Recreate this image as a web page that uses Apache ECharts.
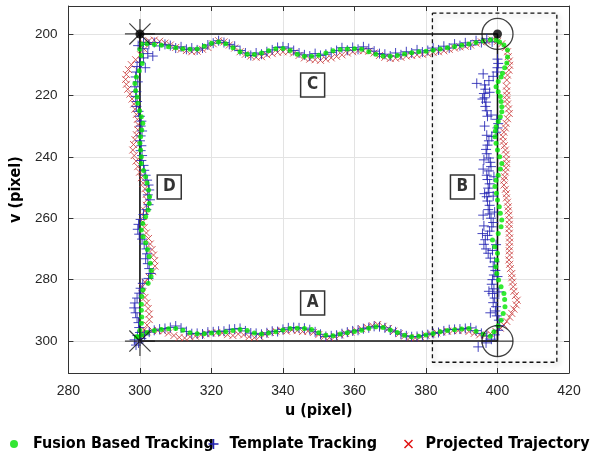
<!DOCTYPE html>
<html><head><meta charset="utf-8">
<script src="https://cdn.jsdelivr.net/npm/echarts@6/dist/echarts.min.js"></script>
<style>html,body{margin:0;padding:0;background:#fff}#c{width:590px;height:456px}</style>
</head><body><div id="c"></div>
<script>
// ---- axes ----
const xRange = [280, 420];
const yRange = [190.9, 310.4];
const tickStep = 20;
const yTicks = [200, 220, 240, 260, 280, 300];

// ---- reference square & annotations ----
const refSquare = [[300,200],[400,200],[400,300],[300,300],[300,200]];
const boxCorners = [[381.8,193.2],[416.6,193.2],[416.6,306.9],[381.8,306.9],[381.8,193.2]];
const starPoints = [[300,200],[300,300]];
const dotPoints = [[300,200],[400,200]];
const circlePoints = [[400,200],[400,300]];
const plusPoints = [[400,300]];
const labelNames = ['A','B','C','D'];
const labelPos = [[348.3,287.6],[390.2,249.8],[348.3,216.6],[308.2,249.8]];

// ---- Fusion Based Tracking ----
const fusionBottom = [[299.0,298.6],[300.5,298.0],[302,297.2],[304,296.6],[306,296.2],[308,296.0],[310,295.9],[312,296.5],[314,297.3],[316,297.6],[318,297.6],[320,297.4],[322,297.2],[324,297.0],[326,296.6],[328,296.2],[330,296.6],[332,297.4],[334,297.7],[336,297.4],[338,297.0],[340,296.4],[342,295.9],[344,295.8],[346,295.9],[348,296.2],[350,297.3],[352,298.1],[354,298.3],[356,297.7],[358,297.3],[360,296.9],[362,296.5],[364,295.8],[366,295.3],[368,295.6],[370,296.4],[372,297.2],[374,298.1],[376,298.6],[378,298.4],[380,298.0],[382,297.5],[384,297.0],[386,296.6],[388,296.3],[390,296.1],[392,295.9],[394,296.8],[396,297.8],[398,298.4]];
const fusionRight = [[399.0,297.0],[400.2,295.0],[401.0,293.2],[401.6,291.0],[402.1,288.8],[402.0,286.5],[401.8,284.5],[401.0,282.3],[400.3,280.1],[399.8,278.0],[399.5,275.8],[399.8,273.6],[400.0,271.4],[399.2,269.3],[398.6,267.1],[400.2,265.0],[401.0,262.8],[401.2,260.6],[400.8,258.4],[400.5,256.3],[400.0,254.1],[399.7,251.9],[399.3,249.7],[399.6,247.6],[400.2,246.0],[400.8,244.0],[401.2,242.2],[400.6,240.0],[400.0,237.8],[399.6,235.6],[399.3,233.5],[399.4,231.6],[399.6,230.2],[400.2,228.5],[400.8,227.0],[401.2,225.3],[401.2,223.7],[401.0,222.0],[400.8,220.4],[400.2,218.8],[399.6,217.2],[400.2,215.5],[401.0,214.0],[401.4,212.8],[402.0,211.0],[402.6,209.5],[402.8,207.5],[402.8,205.2],[401.8,203.6],[400.6,202.6],[399.6,202.0]];
const fusionTop = [[398,201.9],[396,202.3],[394,202.8],[392,203.3],[390,203.7],[388,204.1],[386,204.5],[384,204.9],[382,205.3],[380,205.6],[378,205.8],[376,206.1],[374,206.5],[372,207.0],[370,207.3],[368,207.2],[366,206.6],[364,205.8],[362,205.0],[360,204.8],[358,204.9],[356,205.1],[354,205.5],[352,206.2],[350,206.9],[348,207.3],[346,207.3],[344,206.6],[342,205.4],[340,204.7],[338,204.8],[336,205.5],[334,206.2],[332,206.7],[330,206.6],[328,205.8],[326,204.5],[324,203.2],[322,202.6],[320,203.0],[318,204.0],[316,204.9],[314,205.0],[312,204.8],[310,204.5],[308,204.2],[306,203.7],[304,203.4],[302,203.2],[300.5,203.3]];
const fusionLeft = [[300.0,205.0],[300.4,207.0],[300.6,209.6],[299.8,212.0],[299.0,214.0],[298.6,216.1],[298.8,218.5],[299.2,220.5],[299.4,222.6],[299.9,225.0],[300.4,227.0],[300.8,229.1],[300.5,231.3],[300.2,233.5],[300.0,235.6],[300.2,237.8],[300.4,240.0],[300.4,242.2],[301.0,244.5],[301.6,246.5],[302.0,248.5],[302.4,250.8],[302.7,253.0],[302.6,255.2],[302.3,257.3],[301.6,259.5],[300.8,261.7],[300.4,263.8],[300.9,266.0],[301.6,268.0],[302.1,270.2],[302.6,272.5],[302.9,274.7],[303.2,277.0],[303.1,279.0],[302.3,281.2],[300.8,283.4],[300.5,285.5],[300.4,288.0],[300.4,290.0],[300.5,292.2],[300.4,294.2],[300.0,296.5],[299.5,298.6]];

// ---- Template Tracking ----
const templateBottom = [[298.5,299.6],[299.6,300.6],[300.4,299.2],[299.3,298.2],[301.3,298.0],[298.9,301.3],[302.6,297.1],[304.0,296.5],[305.5,296.1],[307.0,295.9],[308.5,295.6],[310.0,295.1],[311.5,295.8],[313.0,296.9],[314.5,297.6],[316.0,297.5],[317.5,297.7],[319.0,297.1],[320.5,297.0],[322.0,296.8],[323.5,296.8],[325.0,296.2],[326.5,296.1],[328.0,295.9],[329.5,296.7],[331.0,297.4],[332.5,297.5],[334.0,297.8],[335.5,297.3],[337.0,296.8],[338.5,296.9],[340.0,296.2],[341.5,295.7],[343.0,295.6],[344.5,295.7],[346.0,295.8],[347.5,296.3],[349.0,297.0],[350.5,297.8],[352.0,298.5],[353.5,298.3],[355.0,298.1],[356.5,297.6],[358.0,297.1],[359.5,296.7],[361.0,296.5],[362.5,296.0],[364.0,295.7],[365.5,295.2],[367.0,295.3],[368.5,295.7],[370.0,296.4],[371.5,297.0],[373.0,297.7],[374.5,298.3],[376.0,298.6],[377.5,298.5],[379.0,298.2],[380.5,297.9],[382.0,297.5],[383.5,297.2],[385.0,296.7],[386.5,296.3],[388.0,296.2],[389.5,296.1],[391.0,295.9],[392.5,295.7],[394.0,296.6],[395.5,297.5],[397.0,298.3],[394.6,301.9],[396.8,300.6],[398.3,299.4]];
const templateRight = [[399.2,298.0],[400.2,296.5],[400.6,295.0],[400.4,293.2],[399.8,291.8],[399.4,290.2],[399.6,288.8],[398.8,287.5],[399.2,286.0],[398.6,284.5],[399.0,283.0],[398.4,281.5],[398.6,280.0],[399.0,278.5],[399.4,277.0],[398.8,275.8],[399.2,274.2],[398.0,273.0],[397.4,271.4],[396.8,270.0],[396.2,268.5],[396.6,267.0],[397.2,265.6],[397.8,264.2],[398.4,262.8],[398.8,261.4],[398.2,260.0],[397.8,258.6],[397.4,257.2],[397.8,255.8],[397.2,254.4],[397.0,253.0],[397.6,251.6],[397.4,250.2],[397.8,248.8],[397.2,247.4],[397.0,246.0],[397.6,244.6],[398.2,243.2],[398.0,241.8],[397.6,240.4],[397.0,239.0],[396.8,237.6],[397.2,236.2],[397.6,234.8],[398.4,233.4],[399.6,232.0],[400.0,230.6],[400.2,229.2],[399.8,227.8],[398.2,226.4],[397.0,225.0],[396.6,223.6],[396.8,222.2],[396.4,220.8],[396.2,219.4],[396.6,218.0],[396.4,216.6],[394.2,216.1],[397.6,215.2],[398.8,213.8],[399.8,212.4],[400.0,211.0],[400.2,209.6],[400.0,208.2],[396.0,244.0],[396.2,241.0],[396.4,252.0],[398.8,252.8],[399.0,246.5],[396.0,259.0],[399.2,258.0],[396.2,262.5],[395.8,265.0],[398.6,270.5],[399.6,268.6],[397.6,283.8],[398.0,290.8],[400.4,284.0],[400.0,279.0],[396.4,230.0],[397.0,233.0],[395.8,221.2],[397.8,219.0],[396.0,213.0],[397.2,226.8]];
const templateTop = [[398.5,202.6],[397.0,201.6],[395.5,202.8],[394.0,202.2],[392.5,203.6],[391.0,202.9],[389.5,203.8],[388.0,203.3],[386.5,204.6],[385.0,204.0],[383.5,205.2],[382.0,204.6],[380.5,205.4],[379.0,205.9],[377.5,205.2],[376.0,206.2],[374.5,205.8],[373.0,206.8],[371.5,206.2],[370.0,207.2],[368.5,206.6],[367.0,206.4],[365.5,205.6],[364.0,204.8],[362.5,204.2],[361.0,205.0],[359.5,204.4],[358.0,205.3],[356.5,204.5],[355.0,205.4],[353.5,206.0],[352.0,206.6],[350.5,207.0],[349.0,206.4],[347.5,207.2],[346.0,206.8],[344.5,206.2],[343.0,205.4],[341.5,204.6],[340.0,204.2],[338.5,204.4],[337.0,205.2],[335.5,205.8],[334.0,206.6],[332.5,206.2],[331.0,207.0],[329.5,206.2],[328.0,205.4],[326.5,204.0],[325.0,203.4],[323.5,202.8],[322.0,202.2],[320.5,203.0],[319.0,203.6],[317.5,204.6],[316.0,205.2],[314.5,204.6],[313.0,205.0],[311.5,204.2],[310.0,204.6],[308.5,203.8],[307.0,203.4],[305.5,203.9],[304.0,202.8],[302.5,203.4],[301.0,202.8]];
const templateLeft = [[299.5,203.8],[300.8,204.8],[302.2,206.4],[303.6,207.2],[301.0,207.8],[300.0,209.2],[299.2,210.6],[301.5,211.0],[299.0,212.4],[298.8,214.0],[299.4,215.6],[298.6,217.2],[299.0,218.8],[298.8,220.4],[299.2,222.0],[299.0,223.6],[299.6,225.2],[300.0,226.8],[300.4,228.4],[300.2,230.0],[300.6,231.6],[300.2,233.2],[300.0,234.8],[300.4,236.4],[300.2,238.0],[300.6,239.6],[300.4,241.2],[301.0,242.8],[301.2,244.4],[301.6,246.0],[302.0,247.6],[302.4,249.2],[302.6,250.8],[302.2,252.4],[302.8,254.0],[302.4,255.6],[301.8,257.2],[301.0,258.8],[300.2,260.4],[299.6,262.0],[299.4,263.6],[299.8,265.2],[300.6,266.8],[301.2,268.4],[301.8,270.0],[302.0,271.6],[301.6,273.2],[302.2,274.8],[302.6,276.4],[303.0,278.0],[302.4,279.6],[300.8,281.2],[300.2,282.8],[299.8,284.4],[299.2,286.0],[298.6,287.6],[298.4,289.2],[298.8,290.8],[299.2,292.4],[299.6,294.0],[299.8,295.6],[300.0,297.2]];

// ---- Projected Trajectory ----
const projectedBottom = [[300.5,298.2],[302.0,297.0],[303.5,296.6],[305.0,296.6],[306.5,296.8],[308.0,297.4],[309.5,298.2],[311.0,298.8],[312.5,299.0],[314.0,298.6],[315.5,298.4],[317.0,298.0],[318.5,297.6],[320.0,297.4],[321.5,297.2],[323.0,297.4],[324.5,297.9],[326.0,298.2],[327.5,297.7],[329.0,298.0],[330.5,298.6],[332.0,298.9],[333.5,298.5],[335.0,297.8],[336.5,297.2],[338.0,296.8],[339.5,296.6],[341.0,296.8],[342.5,296.4],[344.0,296.6],[345.5,296.9],[347.0,296.8],[348.5,297.2],[350.0,297.9],[351.5,298.6],[353.0,298.9],[354.5,298.6],[356.0,298.0],[357.5,297.5],[359.0,297.1],[360.5,296.6],[362.0,296.0],[363.5,295.5],[365.0,295.0],[366.5,294.6],[368.0,295.2],[369.5,295.9],[371.0,296.8],[372.5,297.6],[374.0,298.4],[375.5,298.9],[377.0,299.0],[378.5,298.6],[380.0,298.1],[381.5,297.7],[383.0,297.3],[384.5,297.0],[386.0,296.8],[387.5,296.6],[389.0,296.6],[390.5,296.4],[392.0,296.9],[393.5,297.5],[395.0,298.0],[396.5,298.2],[398.0,297.6],[399.5,296.8],[400.8,295.8],[401.8,294.8]];
const projectedRight = [[402.6,293.6],[403.4,292.2],[404.0,291.0],[404.6,289.6],[405.2,288.2],[405.5,286.7],[405.0,285.2],[404.6,283.8],[404.4,282.3],[404.2,280.8],[404.0,279.4],[404.0,278.0],[403.6,276.4],[403.4,275.0],[403.2,273.6],[403.4,272.0],[403.3,270.6],[403.3,269.3],[403.4,267.8],[403.4,266.4],[403.3,264.9],[403.2,263.4],[403.3,262.0],[403.3,260.6],[403.2,259.0],[403.0,257.6],[403.0,256.3],[402.8,254.8],[402.5,253.4],[402.5,252.0],[402.2,250.6],[401.8,249.2],[401.8,247.6],[402.0,246.5],[402.2,245.0],[402.4,243.6],[402.6,242.2],[402.5,240.8],[402.4,239.2],[402.2,237.8],[401.9,236.4],[401.6,235.0],[401.5,233.5],[401.8,232.0],[402.2,230.6],[402.4,229.1],[402.8,227.6],[403.3,225.9],[403.1,224.4],[402.8,222.8],[402.6,221.4],[402.6,220.0],[402.6,218.6],[402.5,217.0],[402.6,215.0],[402.8,213.4],[403.2,211.8],[403.4,210.2],[403.3,208.8],[403.0,207.4],[402.8,205.8],[402.2,204.4],[401.2,203.2],[400.0,202.4]];
const projectedTop = [[398.5,202.0],[397.0,202.4],[395.5,202.6],[394.0,203.0],[392.5,203.6],[391.0,204.0],[389.5,204.2],[388.0,204.6],[386.5,205.0],[385.0,205.5],[383.5,205.8],[382.0,206.0],[380.5,206.4],[379.0,206.6],[377.5,206.8],[376.0,207.0],[374.5,207.2],[373.0,207.6],[371.5,207.9],[370.0,208.0],[368.5,207.6],[367.0,207.0],[365.5,206.2],[364.0,205.6],[362.5,205.5],[361.0,205.4],[359.5,205.8],[358.0,206.2],[356.5,206.8],[355.0,207.3],[353.5,207.8],[352.0,208.2],[350.5,208.6],[349.0,208.4],[347.5,208.2],[346.0,207.8],[344.5,207.0],[343.0,206.2],[341.5,205.8],[340.0,205.8],[338.5,206.0],[337.0,206.4],[335.5,206.8],[334.0,207.4],[332.5,207.6],[331.0,207.2],[329.5,206.6],[328.0,205.8],[326.5,204.6],[325.0,203.6],[323.5,202.6],[322.0,202.2],[320.5,203.2],[319.0,204.4],[317.5,205.0],[316.0,205.6],[314.5,205.8],[313.0,205.4],[311.5,205.0],[310.0,204.4],[308.5,203.6],[307.0,203.0],[305.5,202.4],[304.0,202.0],[302.5,202.2],[301.0,203.0]];
const projectedLeft = [[301.2,205.0],[300.2,206.8],[298.8,208.4],[297.6,210.0],[296.8,211.6],[296.2,213.2],[296.0,214.8],[296.2,216.4],[296.6,218.0],[297.2,219.6],[297.8,221.2],[298.3,222.8],[298.6,224.5],[299.0,226.2],[299.3,227.8],[299.5,229.5],[299.4,231.2],[299.0,232.8],[298.6,234.4],[298.2,236.0],[298.0,237.8],[298.4,239.6],[298.9,241.4],[299.4,243.2],[299.9,245.0],[300.4,246.8],[300.9,248.6],[301.4,250.4],[301.8,252.2],[302.0,254.0],[301.8,255.8],[301.4,257.6],[301.0,259.4],[300.8,261.2],[301.2,263.0],[301.8,264.8],[302.4,266.6],[302.9,268.4],[303.4,270.2],[303.8,272.0],[304.1,273.8],[304.2,275.6],[303.6,277.4],[302.6,279.2],[301.4,280.8],[300.6,282.4],[300.8,284.0],[301.4,285.8],[301.9,287.6],[302.3,289.4],[302.6,291.2],[302.6,293.0],[302.0,294.8],[301.2,296.4],[300.4,297.6]];

const fusionTrack = [].concat(fusionBottom, fusionRight, fusionTop, fusionLeft);
const templateTrack = [].concat(templateBottom, templateRight, templateTop, templateLeft);
const projectedTrack = [].concat(projectedBottom, projectedRight, projectedTop, projectedLeft);

const seriesNames = ['Fusion Based Tracking','Template Tracking','Projected Trajectory'];

const AX = '#333333';
const labelFont = 'Liberation Sans, Arial, sans-serif';
const boldFont = '"Liberation Sans Narrow", "DejaVu Sans Condensed", Lato, sans-serif';
const PLUS = 'path://M0,5L10,5M5,0L5,10';
const CROSS = 'path://M0,0L10,10M10,0L0,10';
const STAR = 'path://M15,0L15,30M0,15L30,15M4.4,4.4L25.6,25.6M25.6,4.4L4.4,25.6';

const chart = echarts.init(document.getElementById('c'), null, {renderer:'canvas'});
const baseX = {type:'value', min:xRange[0], max:xRange[1], interval:tickStep};
const baseY = {type:'value', min:yRange[0], max:yRange[1], inverse:true};
const legendText = {fontFamily:boldFont, fontWeight:'bold', fontSize:16, color:'#000'};

chart.setOption({
  animation:false,
  backgroundColor:'#ffffff',
  grid:{left:67, right:21, top:6, bottom:83, containLabel:false},
  xAxis:[
    Object.assign({}, baseX, {position:'bottom',
      axisLine:{show:true, onZero:false, lineStyle:{color:AX, width:1}},
      axisTick:{show:true, inside:true, length:5, lineStyle:{color:AX}},
      axisLabel:{color:'#262626', fontSize:14, fontFamily:labelFont, margin:11},
      splitLine:{show:true, lineStyle:{color:'#e3e3e3', width:1}},
      name:'u (pixel)', nameLocation:'middle', nameGap:27,
      nameTextStyle:{fontFamily:boldFont, fontWeight:'bold', fontSize:16, color:'#000'}}),
    Object.assign({}, baseX, {position:'top',
      axisLine:{show:true, onZero:false, lineStyle:{color:AX, width:1}},
      axisTick:{show:true, inside:true, length:5, lineStyle:{color:AX}},
      axisLabel:{show:false}, splitLine:{show:false}})
  ],
  yAxis:[
    Object.assign({}, baseY, {position:'left',
      axisLine:{show:true, onZero:false, lineStyle:{color:AX, width:1}},
      axisTick:{show:true, inside:true, length:5, lineStyle:{color:AX}, customValues:yTicks},
      axisLabel:{color:'#262626', fontSize:13.5, fontFamily:labelFont, margin:11, customValues:yTicks},
      splitLine:{show:true, lineStyle:{color:'#e3e3e3', width:1}},
      name:'v (pixel)', nameLocation:'middle', nameGap:44,
      nameTextStyle:{fontFamily:boldFont, fontWeight:'bold', fontSize:16, color:'#000'}}),
    Object.assign({}, baseY, {position:'right',
      axisLine:{show:true, onZero:false, lineStyle:{color:AX, width:1}},
      axisTick:{show:true, inside:true, length:5, lineStyle:{color:AX}, customValues:yTicks},
      axisLabel:{show:false, customValues:yTicks}, splitLine:{show:false}})
  ],
  legend:[
    {data:[{name:seriesNames[0], itemStyle:{color:'#00e000'}}], left:5, top:431, itemWidth:28, itemHeight:8, itemGap:0, textStyle:legendText},
    {data:[{name:seriesNames[1], itemStyle:{borderColor:'#2020b0', borderWidth:1.5, opacity:1}}], left:201, top:431, itemWidth:22, itemHeight:10, itemGap:0, textStyle:legendText},
    {data:[{name:seriesNames[2], itemStyle:{borderColor:'#e01010', borderWidth:1.5, opacity:1}}], left:397, top:431, itemWidth:24, itemHeight:8, itemGap:0, textStyle:legendText}
  ],
  series:[
    {type:'line', name:'refSquare', data:refSquare, symbol:'none', silent:true, z:2,
      lineStyle:{color:'#111', width:1.6}},
    {type:'line', name:'box', data:boxCorners, symbol:'none', silent:true, z:2,
      lineStyle:{color:'#111', width:1.3, type:[4,3], shadowColor:'rgba(0,0,0,0.3)', shadowBlur:5, shadowOffsetX:2, shadowOffsetY:2}},
    {type:'scatter', name:seriesNames[2], data:projectedTrack, symbol:CROSS, symbolSize:7, z:3,
      itemStyle:{color:'none', borderColor:'#c83636', borderWidth:1, opacity:0.8}},
    {type:'scatter', name:seriesNames[1], data:templateTrack, symbol:PLUS, symbolSize:10, z:4,
      itemStyle:{color:'none', borderColor:'#2424b4', borderWidth:1, opacity:0.85}},
    {type:'scatter', name:seriesNames[0], data:fusionTrack, symbol:'circle', symbolSize:5, z:5,
      itemStyle:{color:'#00e600'}},
    {type:'scatter', name:'stars', data:starPoints, symbol:STAR, symbolSize:30, z:6, silent:true,
      itemStyle:{color:'none', borderColor:'#111', borderWidth:1.2}},
    {type:'scatter', name:'dots', data:dotPoints, symbol:'circle', symbolSize:9, z:7, silent:true,
      itemStyle:{color:'#000'}},
    {type:'scatter', name:'circles', data:circlePoints, symbol:'circle', symbolSize:31, z:6, silent:true,
      itemStyle:{color:'none', borderColor:'#111', borderWidth:1.3}},
    {type:'scatter', name:'plus', data:plusPoints, symbol:'path://M0,15.5L31,15.5M15.5,0L15.5,31', symbolSize:31, z:6, silent:true,
      itemStyle:{color:'none', borderColor:'#111', borderWidth:1.3}},
    {type:'scatter', name:'labels', z:8, silent:true, symbol:'rect', symbolSize:24,
      data:labelPos.map((p,i)=>({value:p, name:labelNames[i]})),
      itemStyle:{color:'#fff', borderColor:'#000', borderWidth:1.5},
      label:{show:true, position:'inside', formatter:'{b}', fontFamily:boldFont, fontWeight:'bold', fontSize:17, color:'#000'}}
  ]
});
</script></body></html>
